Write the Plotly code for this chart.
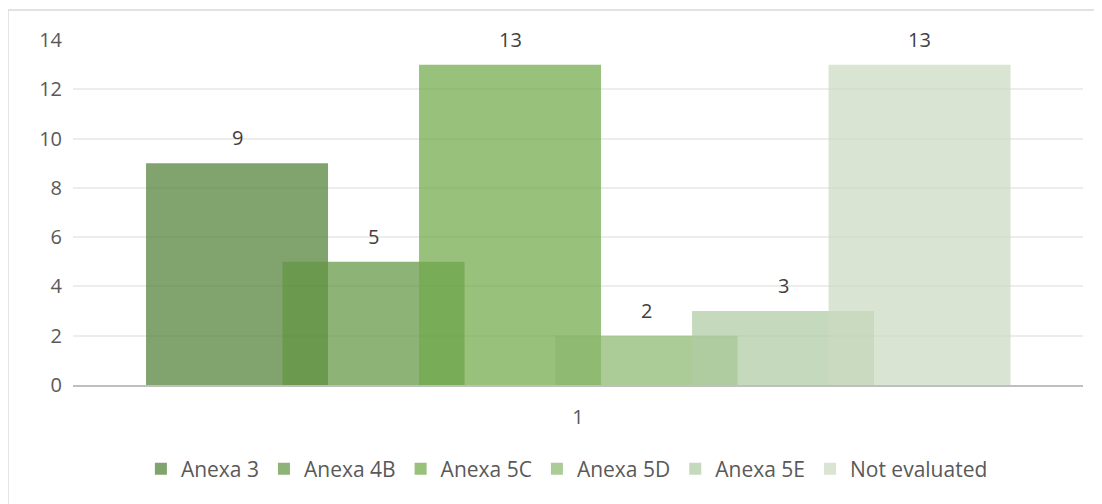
import plotly.graph_objects as go

# ---- data ----
categories = ["1"]
series_names = ["Anexa 3", "Anexa 4B", "Anexa 5C", "Anexa 5D", "Anexa 5E", "Not evaluated"]
series_values = [9, 5, 13, 2, 3, 13]
y_ticks = [0, 2, 4, 6, 8, 10, 12, 14]

# ---- style ----
colors = [
    "rgba(81,129,55,0.72)",
    "rgba(99,149,65,0.72)",
    "rgba(112,169,73,0.72)",
    "rgba(138,183,111,0.72)",
    "rgba(174,204,163,0.72)",
    "rgba(202,218,193,0.72)",
]
FONT = "Open Sans, Noto Sans, sans-serif"
bar_w = 0.1802
step = 0.13515
first_off = -0.4277

fig = go.Figure()
annotations = []
for i, (name, val) in enumerate(zip(series_names, series_values)):
    off = first_off + step * i
    fig.add_trace(go.Bar(
        x=categories, y=[val], name=name,
        offset=off, width=bar_w,
        marker=dict(color=colors[i], line=dict(width=0)),
        hoverinfo="name+y",
    ))
    annotations.append(dict(
        x=0 + off + bar_w / 2, y=val, xref="x", yref="y",
        text=str(val), showarrow=False, yanchor="bottom",
        yshift=10, font=dict(family=FONT, size=20, color="#404040"),
    ))

fig.update_layout(
    barmode="overlay",
    width=1094, height=496,
    margin=dict(l=65, r=19, t=32, b=119),
    paper_bgcolor="white", plot_bgcolor="white",
    font=dict(family=FONT, size=20, color="#595959"),
    annotations=annotations,
    legend=dict(
        orientation="h", x=0.489, xanchor="center", y=-0.2435, yanchor="middle",
        font=dict(family=FONT, size=21, color="#595959"),
        bgcolor="rgba(0,0,0,0)",
    ),
    shapes=[dict(
        type="rect", xref="paper", yref="paper",
        x0=-0.0644, x1=1.1, y0=-0.5, y1=1.087,
        line=dict(color="#D9D9D9", width=1.5), fillcolor="rgba(0,0,0,0)", layer="below",
    )],
    xaxis=dict(
        type="category", range=[-0.5, 0.5], showgrid=False,
        showline=True, linecolor="#BFBFBF", linewidth=2,
        ticks="", ticklabelstandoff=13,
        tickfont=dict(family=FONT, size=20, color="#595959"),
        zeroline=False,
    ),
    yaxis=dict(
        range=[0, 14], tickvals=y_ticks, showgrid=True,
        gridcolor="#EDEDED", gridwidth=1.5, zeroline=False, showline=False,
        ticks="", ticklabelstandoff=10,
        tickfont=dict(family=FONT, size=20, color="#595959"),
    ),
)

fig.write_html("out.html")
